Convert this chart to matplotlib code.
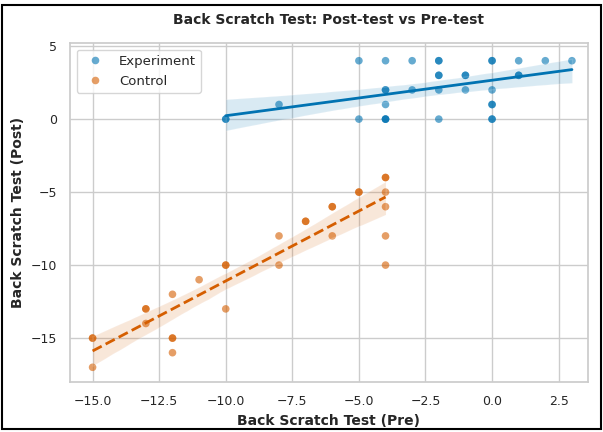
import numpy as np
import pandas as pd
import matplotlib
matplotlib.use('Agg')
import matplotlib.pyplot as plt
import seaborn as sns
from matplotlib.patches import Rectangle

# Experiment group
exp_pre = [-10, -10, -8, -5, -5, -4, -4, -4, -4, -4, -4, -4, -3, -3,
           -2, -2, -2, -2, -2, -2, -1, -1, -1, 0, 0, 0, 0, 0, 0, 0,
           1, 1, 1, 2, 3]
exp_post = [0, 0, 1, 4, 0, 4, 2, 2, 1, 0, 0, 0, 4, 2,
            4, 4, 3, 3, 2, 0, 3, 3, 2, 4, 4, 2, 1, 1, 0, 0,
            4, 3, 3, 4, 4]

# Control group
ctl_pre = [-15, -15, -15, -13, -13, -13, -12, -12, -12, -12, -11,
           -10, -10, -10, -8, -8, -7, -7, -6, -6, -6, -5, -5,
           -4, -4, -4, -4, -4, -4]
ctl_post = [-15, -15, -17, -13, -13, -14, -12, -15, -15, -16, -11,
            -10, -10, -13, -8, -10, -7, -7, -6, -6, -8, -5, -5,
            -4, -4, -5, -6, -8, -10]

df = pd.DataFrame({
    'pre': exp_pre + ctl_pre,
    'post': exp_post + ctl_post,
    'group': ['Experiment'] * len(exp_pre) + ['Control'] * len(ctl_pre),
})

sns.set_theme(style='whitegrid')
plt.rcParams['font.family'] = ['DejaVu Sans']

blue = '#0173b2'
orange = '#d55e00'

fig, ax = plt.subplots(figsize=(6.03, 4.32), dpi=100)
fig.subplots_adjust(left=0.116, right=0.975, top=0.9, bottom=0.116)

sns.scatterplot(data=df, x='pre', y='post', hue='group',
                palette={'Experiment': blue, 'Control': orange},
                alpha=0.6, s=30, edgecolor='none', ax=ax)

sns.regplot(x=exp_pre, y=exp_post, scatter=False, color=blue, ax=ax,
            seed=1, line_kws={'lw': 2})
sns.regplot(x=ctl_pre, y=ctl_post, scatter=False, color=orange, ax=ax,
            seed=1, line_kws={'lw': 2, 'ls': '--'})

ax.set_title('Back Scratch Test: Post-test vs Pre-test', fontweight='bold',
             fontsize=10, pad=14)
ax.set_xlabel('Back Scratch Test (Pre)', fontweight='bold', fontsize=10)
ax.set_ylabel('Back Scratch Test (Post)', fontweight='bold', fontsize=10)
ax.tick_params(labelsize=9)
ax.set_yticks([-15, -10, -5, 0, 5])
ax.set_xlim(-15.85, 3.6)
ax.set_ylim(-18.0, 5.2)
ax.legend(title=None, loc='upper left', fontsize=9.5)

# black frame around the figure
fig.patches.append(Rectangle((0.004, 0.006), 0.992, 0.982, transform=fig.transFigure,
                             fill=False, edgecolor='black', lw=1.5))

plt.savefig('out.png', dpi=100)
